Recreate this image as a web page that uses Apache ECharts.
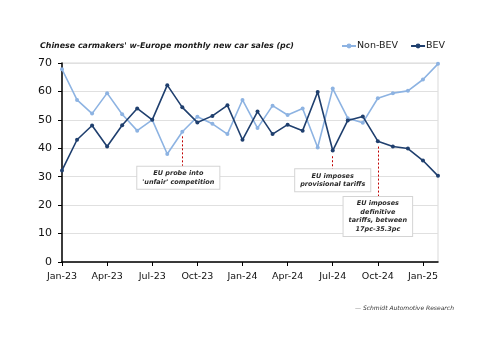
<!DOCTYPE html>
<html>
<head>
<meta charset="utf-8">
<script src="https://cdn.jsdelivr.net/npm/echarts@6/dist/echarts.min.js"></script>
<style>
html, body { margin: 0; padding: 0; background: #fff; }
#chart { width: 500px; height: 353px; }
</style>
</head>
<body>
<div id="chart"></div>
<script>
// monthly share, pc
var months = ["Jan-23","Feb-23","Mar-23","Apr-23","May-23","Jun-23","Jul-23","Aug-23","Sep-23","Oct-23","Nov-23","Dec-23",
    "Jan-24","Feb-24","Mar-24","Apr-24","May-24","Jun-24","Jul-24","Aug-24","Sep-24","Oct-24","Nov-24","Dec-24",
    "Jan-25","Feb-25"]
var nonBev = [67.8, 57.0, 52.2, 59.4, 52.0, 46.2, 50.0, 38.0, 45.8, 51.1, 48.6, 45.0,
    57.0, 47.1, 55.0, 51.7, 54.0, 40.3, 61.0, 50.6, 49.0, 57.6, 59.4, 60.2, 64.2, 69.7]
var bev = [32.2, 43.0, 48.0, 40.6, 48.1, 54.0, 50.0, 62.2, 54.4, 49.1, 51.4, 55.1,
    43.0, 52.9, 45.0, 48.3, 46.2, 59.8, 39.2, 49.8, 51.2, 42.5, 40.6, 39.9, 35.7, 30.3]

// annotations: month, dashed line from/to, box centre value, text
var notes = [
    {month: "Sep-23", from: 44.2, to: 33.8, at: 29.6, dx: -4, text: "EU probe into\n'unfair' competition"},
    {month: "Jul-24", from: 37.2, to: 32.6, at: 28.8, dx: 0, text: "EU imposes\nprovisional tariffs"},
    {month: "Oct-24", from: 40.6, to: 22.8, at: 16.0, dx: 0, text: "EU imposes\ndefinitive\ntariffs, between\n17pc-35.3pc"}
]

var font = "DejaVu Sans"
var chart = echarts.init(document.getElementById("chart"), null, {renderer: "canvas"})

chart.setOption({
    animation: false,
    textStyle: {fontFamily: font},
    title: [
        {text: "Chinese carmakers' w-Europe monthly new car sales (pc)", left: 35, top: 37,
            textStyle: {fontSize: 7.9, fontWeight: "bold", fontStyle: "italic", color: "#1a1a1a", fontFamily: font}},
        {text: "— Schmidt Automotive Research", left: 350, top: 300,
            textStyle: {fontSize: 6, fontWeight: "normal", fontStyle: "italic", color: "#333", fontFamily: font}}
    ],
    legend: {
        left: 336, top: 36, itemGap: 12, itemWidth: 14, itemHeight: 6,
        textStyle: {fontSize: 9.5, color: "#1a1a1a", fontFamily: font, padding: [0, 0, 0, -4]},
        data: ["Non-BEV", "BEV"]
    },
    grid: {left: 62, right: 62, top: 63, bottom: 91, show: true, borderColor: "#d9d9d9", borderWidth: 1},
    xAxis: {
        type: "category", data: months, boundaryGap: false,
        axisLine: {lineStyle: {color: "#000", width: 1.5}},
        axisTick: {show: true, interval: 2, length: 4, lineStyle: {color: "#000"}},
        axisLabel: {interval: 2, fontSize: 9.5, color: "#111", margin: 10, fontFamily: font},
        splitLine: {show: false}
    },
    yAxis: {
        type: "value", min: 0, max: 70, interval: 10,
        axisLine: {show: true, lineStyle: {color: "#000", width: 1.5}},
        axisTick: {show: true, length: 4, lineStyle: {color: "#000"}},
        axisLabel: {fontSize: 11, color: "#111", margin: 10, fontFamily: font},
        splitLine: {lineStyle: {color: "#e0e0e0"}}
    },
    series: [
        {
            name: "Non-BEV", type: "line", data: nonBev,
            symbol: "circle", symbolSize: 4, showSymbol: true,
            lineStyle: {color: "#8db3e2", width: 1.6},
            itemStyle: {color: "#8db3e2"},
            z: 2
        },
        {
            name: "BEV", type: "line", data: bev,
            symbol: "circle", symbolSize: 4, showSymbol: true,
            lineStyle: {color: "#1f3f6e", width: 1.6},
            itemStyle: {color: "#1f3f6e"},
            z: 3,
            markLine: {
                silent: true, symbol: "none", animation: false,
                lineStyle: {color: "#c00000", type: [2, 2], width: 1},
                label: {show: false},
                data: notes.map(function(n) {
                    return [{coord: [n.month, n.from]}, {coord: [n.month, n.to]}]
                })
            },
            markPoint: {
                silent: true, animation: false, symbol: "rect", symbolSize: 1,
                itemStyle: {color: "rgba(0,0,0,0)"},
                data: notes.map(function(n) {
                    return {
                        coord: [n.month, n.at],
                        label: {
                            show: true, position: "inside", offset: [n.dx, 0], formatter: n.text,
                            align: "center", verticalAlign: "middle",
                            fontSize: 6.5, fontStyle: "italic", fontWeight: "bold", lineHeight: 8.5,
                            color: "#2a2a2a", fontFamily: font,
                            backgroundColor: "#fff", borderColor: "#d4d4d4", borderWidth: 1,
                            padding: [3, 5, 2, 5]
                        }
                    }
                })
            }
        }
    ]
})
</script>
</body>
</html>
